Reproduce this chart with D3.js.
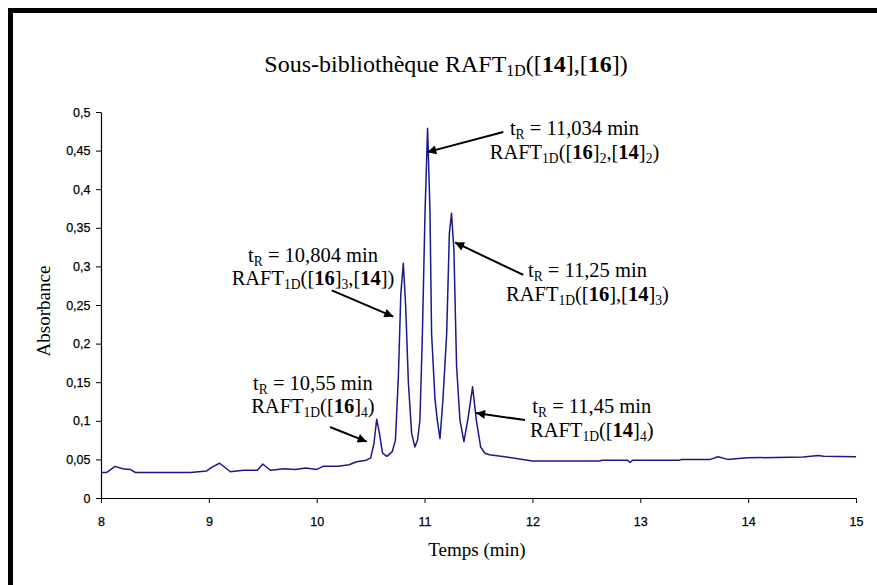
<!DOCTYPE html>
<html><head><meta charset="utf-8">
<script src="https://cdn.jsdelivr.net/npm/d3@7"></script>
<style>body{margin:0;background:#fff}svg{display:block}</style>
</head><body>
<script>
// ---- data ----
const times = [8.00, 8.05, 8.13, 8.20, 8.27, 8.32, 8.83, 8.98, 9.03, 9.10, 9.20, 9.32, 9.45, 9.50, 9.57, 9.70, 9.80, 9.90, 10.00, 10.06, 10.20, 10.30, 10.37, 10.46, 10.50, 10.53, 10.556, 10.58, 10.61, 10.65, 10.70, 10.73, 10.757, 10.78, 10.803, 10.825, 10.85, 10.88, 10.91, 10.935, 10.957, 10.98, 11.004, 11.028, 11.05, 11.065, 11.097, 11.118, 11.143, 11.17, 11.205, 11.23, 11.25, 11.272, 11.297, 11.328, 11.365, 11.405, 11.445, 11.48, 11.52, 11.56, 11.60, 11.76, 12.00, 12.63, 12.64, 12.88, 12.905, 12.93, 13.367, 13.38, 13.65, 13.72, 13.81, 13.99, 14.51, 14.65, 14.70, 15.00];
const absorbance = [0.033, 0.033, 0.041, 0.038, 0.037, 0.033, 0.033, 0.035, 0.040, 0.045, 0.034, 0.036, 0.036, 0.044, 0.036, 0.038, 0.037, 0.039, 0.037, 0.041, 0.041, 0.043, 0.047, 0.049, 0.052, 0.070, 0.102, 0.085, 0.058, 0.054, 0.060, 0.075, 0.157, 0.265, 0.304, 0.248, 0.149, 0.084, 0.066, 0.075, 0.101, 0.213, 0.369, 0.479, 0.373, 0.213, 0.127, 0.101, 0.077, 0.127, 0.213, 0.343, 0.369, 0.321, 0.170, 0.101, 0.073, 0.105, 0.144, 0.101, 0.066, 0.058, 0.056, 0.053, 0.048, 0.048, 0.049, 0.049, 0.046, 0.049, 0.049, 0.050, 0.050, 0.0535, 0.050, 0.052, 0.053, 0.055, 0.054, 0.0535];
const xTicks = [8, 9, 10, 11, 12, 13, 14, 15];
const yTicks = [0, 0.05, 0.1, 0.15, 0.2, 0.25, 0.3, 0.35, 0.4, 0.45, 0.5];
const yTickLabels = ["0", "0,05", "0,1", "0,15", "0,2", "0,25", "0,3", "0,35", "0,4", "0,45", "0,5"];
const titleParts = [{t:"Sous-bibliothèque RAFT"},{t:"1D",sub:true},{t:"(["},{t:"14",b:true},{t:"],["},{t:"16",b:true},{t:"])"}];
const xLabel = "Temps (min)";
const yLabel = "Absorbance";
// annotation: text lines, arrow tail/tip (data coords), text anchor (data coords)
const annotations = [
  {lines:[[{t:"t"},{t:"R",sub:true},{t:" = 10,55 min"}],[{t:"RAFT"},{t:"1D",sub:true},{t:"(["},{t:"16",b:true},{t:"]"},{t:"4",sub:true},{t:")"}]],
   tail:[10.123,0.092], tip:[10.463,0.073], at:[9.965,0.140]},
  {lines:[[{t:"t"},{t:"R",sub:true},{t:" = 10,804 min"}],[{t:"RAFT"},{t:"1D",sub:true},{t:"(["},{t:"16",b:true},{t:"]"},{t:"3",sub:true},{t:",["},{t:"14",b:true},{t:"])"}]],
   tail:[10.14,0.269], tip:[10.71,0.235], at:[9.966,0.306]},
  {lines:[[{t:"t"},{t:"R",sub:true},{t:" = 11,034 min"}],[{t:"RAFT"},{t:"1D",sub:true},{t:"(["},{t:"16",b:true},{t:"]"},{t:"2",sub:true},{t:",["},{t:"14",b:true},{t:"]"},{t:"2",sub:true},{t:")"}]],
   tail:[11.73,0.474], tip:[11.025,0.448], at:[12.39,0.470]},
  {lines:[[{t:"t"},{t:"R",sub:true},{t:" = 11,25 min"}],[{t:"RAFT"},{t:"1D",sub:true},{t:"(["},{t:"16",b:true},{t:"],["},{t:"14",b:true},{t:"]"},{t:"3",sub:true},{t:")"}]],
   tail:[11.915,0.289], tip:[11.282,0.331], at:[12.51,0.286]},
  {lines:[[{t:"t"},{t:"R",sub:true},{t:" = 11,45 min"}],[{t:"RAFT"},{t:"1D",sub:true},{t:"(["},{t:"14",b:true},{t:"]"},{t:"4",sub:true},{t:")"}]],
   tail:[11.931,0.101], tip:[11.477,0.110], at:[12.55,0.110]}
];

// ---- drawing ----
const W = 877, H = 585;
const svg = d3.select("body").append("svg").attr("width", W).attr("height", H);
const serif = "'Liberation Serif', 'Times New Roman', serif";
const sans = "'Liberation Sans', Arial, sans-serif";

// frame (left & top visible)
svg.append("rect").attr("x", 8).attr("y", 8).attr("width", 5).attr("height", H - 8).attr("fill", "#000");
svg.append("rect").attr("x", 8).attr("y", 8).attr("width", W - 8).attr("height", 5).attr("fill", "#000");

const x = d3.scaleLinear().domain([8, 15]).range([101, 856]);
const y = d3.scaleLinear().domain([0, 0.5]).range([498, 112]);

const xAxis = svg.append("g").attr("transform", "translate(0,498)")
  .call(d3.axisBottom(x).tickValues(xTicks).tickSize(5).tickSizeOuter(0).tickFormat(d3.format("d")));
const yAxis = svg.append("g").attr("transform", "translate(101,0)")
  .call(d3.axisLeft(y).tickValues(yTicks).tickSize(5).tickSizeOuter(0).tickFormat((d, i) => yTickLabels[i]));
[xAxis, yAxis].forEach(g => {
  g.select(".domain").attr("stroke", "#000").attr("stroke-width", 1.2);
  g.selectAll(".tick line").attr("stroke", "#000");
  g.selectAll(".tick text").attr("font-family", sans).attr("font-size", 12.5).attr("fill", "#000").attr("font-weight", "normal").attr("stroke","#000").attr("stroke-width",0.25);
});
xAxis.selectAll(".tick text").attr("dy", "1.6em");
yAxis.selectAll(".tick text").attr("dx", "-0.2em");

// line
const line = d3.line().x((d, i) => x(times[i])).y(d => y(d));
svg.append("path").datum(absorbance).attr("d", line).attr("fill", "none")
  .attr("stroke", "#1a1a8c").attr("stroke-width", 1.5).attr("stroke-linejoin", "round");

function rich(textSel, parts, size) {
  parts.forEach(p => {
    const ts = textSel.append("tspan").text(p.t);
    if (p.b) ts.attr("font-weight", "bold");
    if (p.sub) ts.attr("font-size", size * 0.66).attr("baseline-shift", "-28%");
  });
}

// title
const title = svg.append("text").attr("x", 446).attr("y", 72).attr("text-anchor", "middle")
  .attr("font-family", serif).attr("font-size", 24).attr("fill", "#000");
rich(title, titleParts, 24);

// axis labels
svg.append("text").attr("x", 477).attr("y", 556).attr("text-anchor", "middle")
  .attr("font-family", serif).attr("font-size", 19).text(xLabel);
svg.append("text").attr("transform", "translate(50,311) rotate(-90)").attr("text-anchor", "middle")
  .attr("font-family", serif).attr("font-size", 19).text(yLabel);

// arrowhead
svg.append("defs").append("marker").attr("id", "ah").attr("viewBox", "0 0 10 10")
  .attr("refX", 10).attr("refY", 5).attr("markerWidth", 12).attr("markerHeight", 9)
  .attr("markerUnits", "userSpaceOnUse").attr("orient", "auto")
  .append("path").attr("d", "M0,0 L10,5 L0,10 Z").attr("fill", "#000");

const aSize = 20.5;
annotations.forEach(a => {
  svg.append("line").attr("x1", x(a.tail[0])).attr("y1", y(a.tail[1]))
    .attr("x2", x(a.tip[0])).attr("y2", y(a.tip[1]))
    .attr("stroke", "#000").attr("stroke-width", 2).attr("marker-end", "url(#ah)");
  a.lines.forEach((ln, i) => {
    const t = svg.append("text").attr("x", x(a.at[0])).attr("y", y(a.at[1]) + i * 23.5)
      .attr("text-anchor", "middle").attr("font-family", serif).attr("font-size", aSize).attr("fill", "#000");
    rich(t, ln, aSize);
  });
});
</script>
</body></html>
